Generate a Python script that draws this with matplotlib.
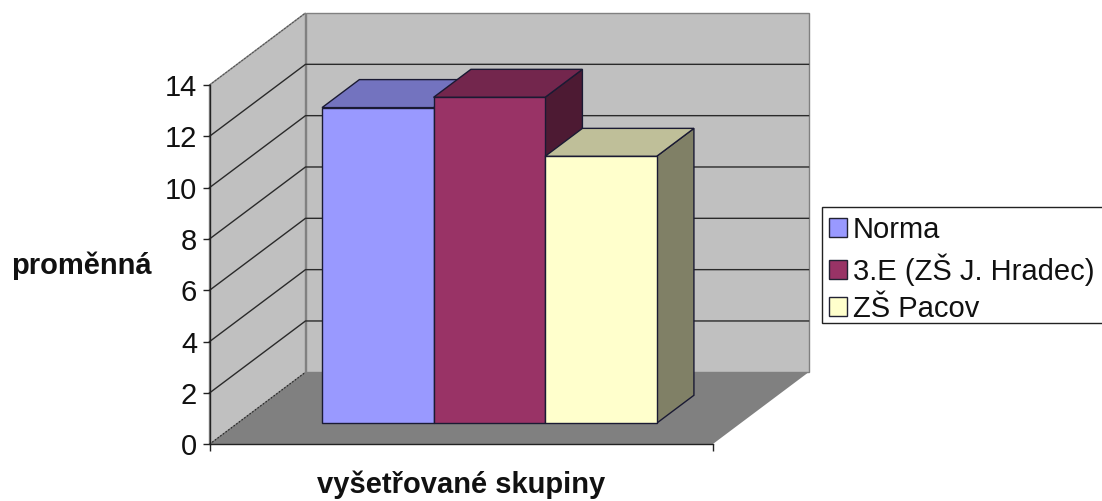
import matplotlib
matplotlib.use("Agg")
import matplotlib.pyplot as plt
from matplotlib.patches import Polygon, Patch, Rectangle

plt.rcParams['font.family'] = ['Liberation Sans', 'DejaVu Sans']

# data
series = ["Norma", "3.E (ZŠ J. Hradec)", "ZŠ Pacov"]
values = [12.3, 12.7, 10.4]
front_colors = ["#9999FF", "#993366", "#FFFFCC"]
top_colors = ["#7373BF", "#73264D", "#BFBF99"]
side_colors = ["#4D4D80", "#4D1A33", "#808066"]
y_ticks = [0, 2, 4, 6, 8, 10, 12, 14]

W, H = 1102, 501
LEFT, RIGHT, TOP, BOTTOM = 209.5, 712.5, 85.0, 444.3
# posun zadni steny vuci prednimu okraji
DX = 96 / (RIGHT - LEFT)
DY = 72 / ((BOTTOM - TOP) / 14)
BAR_W = 0.2217
BAR_START = 0.168
D0, D1 = 0.292, 0.681


def project(x, y, d):
    return (x + d * DX, y + d * DY)


def poly(ax, pts, color, edge="none", lw=0.0, z=1, **kw):
    ax.add_patch(Polygon(pts, closed=True, facecolor=color, edgecolor=edge,
                         linewidth=lw, clip_on=False, zorder=z, **kw))


fig = plt.figure(figsize=(W / 100, H / 100), dpi=100, facecolor="white")
ax = fig.add_axes([LEFT / W, 1 - BOTTOM / H, (RIGHT - LEFT) / W, (BOTTOM - TOP) / H])
ax.set_xlim(0, 1)
ax.set_ylim(0, 14)
ax.patch.set_alpha(0)

# steny a podlaha
poly(ax, [project(0, 0, 1), project(1, 0, 1), project(1, 14, 1), project(0, 14, 1)],
     "#C0C0C0", "#808080", 1.0, z=1)
poly(ax, [project(0, 0, 0), project(0, 0, 1), project(0, 14, 1), project(0, 14, 0)],
     "#C0C0C0", "#808080", 1.0, z=1)
poly(ax, [project(0, 0, 0), project(1, 0, 0), project(1, 0, 1), project(0, 0, 1)],
     "#808080", z=2)
ax.plot(*zip(project(0, 0, 0), project(0, 0, 1)), color="#222222", lw=0.8,
        ls=(0, (1.5, 1.5)), clip_on=False, zorder=3)
ax.plot(*zip(project(0, 14, 0), project(0, 14, 1)), color="#555555", lw=0.8,
        ls=(0, (1.5, 1.5)), clip_on=False, zorder=3)

# mrizka
for t in y_ticks[1:-1]:
    ax.plot(*zip(project(0, t, 0), project(0, t, 1), project(1, t, 1)),
            color="#2A2A2A", lw=1.0, clip_on=False, zorder=3)

# sloupce
for i, v in enumerate(values):
    x0 = BAR_START + i * BAR_W
    x1 = x0 + BAR_W
    z = 4 + i
    poly(ax, [project(x1, 0, D0), project(x1, 0, D1), project(x1, v, D1), project(x1, v, D0)],
         side_colors[i], "#1A1A33", 1.0, z=z)
    poly(ax, [project(x0, v, D0), project(x1, v, D0), project(x1, v, D1), project(x0, v, D1)],
         top_colors[i], "#1A1A33", 1.0, z=z)
    poly(ax, [project(x0, 0, D0), project(x1, 0, D0), project(x1, v, D0), project(x0, v, D0)],
         front_colors[i], "#1A1A33", 1.0, z=z)

# osy
for s in ["top", "right"]:
    ax.spines[s].set_visible(False)
for s in ["left", "bottom"]:
    ax.spines[s].set_color("#222222")
    ax.spines[s].set_linewidth(1.0)
    ax.spines[s].set_zorder(10)
ax.set_yticks(y_ticks)
ax.set_xticks([0, 1])
ax.set_xticklabels([])
ax.tick_params(axis="y", labelsize=21, length=5, width=1.0, color="#222222",
               labelcolor="#111111", pad=4)
ax.tick_params(axis="x", length=5, width=1.0, color="#222222")

fig.text(81 / W, 1 - 266 / H, "proměnná", fontsize=21, fontweight="bold",
         ha="center", va="center", color="#111111")
fig.text(461 / W, 1 - 485 / H, "vyšetřované skupiny", fontsize=21, fontweight="bold",
         ha="center", va="center", color="#111111")

# legenda - ramecek je orezany pravym okrajem obrazku
fig.add_artist(Rectangle((821.7 / W, 1 - 323.3 / H), 300 / W, 116.6 / H,
                         transform=fig.transFigure, facecolor="white",
                         edgecolor="#222222", linewidth=1.0, zorder=1))
handles = [Patch(facecolor=c, edgecolor="#222233", linewidth=1.0) for c in front_colors]
leg = fig.legend(handles, series, loc="upper left", bbox_to_anchor=(821.7 / W, 1 - 208.7 / H),
                 borderaxespad=0, fontsize=21, frameon=False,
                 handlelength=0.62, handleheight=0.62,
                 handletextpad=0.2, borderpad=0.24, labelspacing=0.32,
                 labelcolor="#111111")
leg.set_zorder(5)

fig.savefig("out.png", dpi=100, facecolor="white")
